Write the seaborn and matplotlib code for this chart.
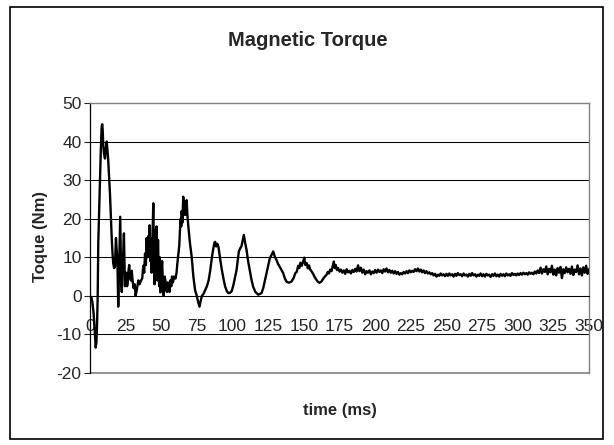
import numpy as np
import pandas as pd
import matplotlib
matplotlib.use("Agg")
import matplotlib.pyplot as plt
import seaborn as sns
from matplotlib.patches import Rectangle

sns.set_style("white")
plt.rcParams['font.family'] = ['Liberation Sans', 'DejaVu Sans']

# ---- data ----
time_early = [
    0, 1, 1.6, 2.4, 3, 3.6, 4, 4.5, 4.9, 5.4,
    5.8, 6.4, 7, 7.6, 8.2, 8.6, 8.9, 9.3, 9.8, 10.5,
    11, 11.7, 12.2, 12.8, 13.4, 14, 14.6, 15.2, 15.8, 16.3,
    16.9, 17.5, 18.2, 18.7, 19.2, 19.8, 20.5, 21.2, 21.9, 22.3,
    22.8, 23.3, 23.8, 24.5, 25, 25.4, 26, 26.4, 27, 27.5,
    28, 28.7, 29.3, 30, 30.6, 31.3, 32, 32.8, 33.9, 34.8,
    35.8, 36.6, 37.4, 38, 38.6, 39.2, 39.7, 40.3, 40.9, 41.4,
    41.8, 42.3, 42.8, 43.2, 43.7, 44.4, 44.9, 45.2, 45.7, 46.2,
    46.7, 47.2, 47.7, 48.2, 48.6, 49, 49.4, 50, 50.6, 51.1,
    51.7, 52.3, 52.9, 53.4, 54, 54.6, 55.2, 55.8, 56.4, 57,
    57.5, 58.2, 59, 60, 60.7, 61.3, 62, 62.6, 63.1, 63.6,
    64, 64.3, 64.8, 65.4, 65.9, 66.3, 66.6, 67.2, 67.8, 68.3,
    69, 70.1, 71.3, 72.5, 73.7, 74.9, 75.8, 76.8, 77.5, 78.5,
    79.6, 80.8, 82, 83.2, 84.3, 85.5, 86.6, 87.3, 87.8, 88.5,
    89.3, 90.1, 91.3, 92.5, 93.7, 94.8, 96, 97, 98.3, 99.5,
    100.7, 101.8, 102.8, 103.6, 104.4, 105.3, 106.2, 107, 107.9, 108.8,
    109.8, 110.9, 112, 113.2, 114.4, 116, 118, 120.3, 121.5, 122.7,
    123.8, 125, 126.1, 127.2, 128.5, 129.6, 130.8, 132, 133, 134.3,
    135.5, 136.6, 137.8, 139.5, 141.3, 142.8, 144, 145, 146, 146.8,
    147.6, 148.5, 149.5, 150.3, 151, 152, 152.8, 153.6, 154.5, 155.5,
    156.5, 157.7, 158.9, 160, 161, 162.3, 163.5, 164.7, 165.8, 166.8,
    167.6, 168.5, 169.4, 170.2, 171, 171.7, 172.4, 173.2, 174, 175,
]
torque_early = [
    0, -0.5, -1.5, -4, -7, -11, -13.4, -12, -8, 0,
    13.7, 22, 30.8, 38, 44, 44.5, 43, 39, 37, 35.6,
    38, 40, 38, 35, 31, 26.5, 21, 15.3, 11, 8.4,
    7.2, 7.6, 15, 12, 9.5, -2.8, 9, 20.5, 3.3, 1,
    8, 11, 16.2, 2.5, 5, 6, 2.5, 3.3, 6.5, 8,
    5, 4, 6.5, 3.5, 2, 3, 0, 1.5, 4, 3,
    4, 4.5, 7.8, 6, 11, 8, 15, 10, 15.5, 11,
    18.3, 9, 15, 6, 14, 24, 8, 3, 17, 12,
    18, 4, 14.5, 6, 2.5, 10, 0.9, 6, 9, 3,
    0, 5, 4, 1.5, 1, 3.5, 2.5, 1, 4, 2.5,
    5, 3.5, 5, 4.5, 6, 8.5, 11, 13, 17, 20,
    18, 22, 19, 25.7, 21, 24.5, 23, 21, 24.8, 21,
    17.9, 13.7, 10.2, 5, 1.5, 0, -1.5, -2.8, -1.5, 0,
    0.5, 1.5, 2.5, 4, 6.5, 10, 12.5, 13.8, 14, 12.8,
    13.5, 12.7, 9.5, 6.7, 4.3, 2.4, 1.2, 0.7, 0.8, 1.3,
    3, 5, 6.7, 9, 11.5, 12.3, 12.8, 14.2, 15.8, 13.8,
    11.9, 9, 6.7, 4.3, 2.4, 1, 0.3, 0.7, 2, 4,
    5.9, 7.8, 9.7, 10.5, 11.5, 10.2, 9.3, 8.2, 7.6, 6.7,
    5.9, 4.6, 3.7, 3.4, 3.7, 4.6, 5.9, 6.2, 7.8, 7.2,
    8.6, 7.8, 8.9, 9.9, 8, 8.5, 7.1, 7.9, 6.8, 6.3,
    5.7, 4.8, 4.1, 3.6, 3.4, 3.7, 4.4, 5, 5.4, 6.2,
    5.8, 6.8, 6.4, 7.6, 8.9, 7.2, 8, 6.7, 7.2, 6.3,
]
time_late = list(range(176, 351))
torque_late = [
    6.8, 6.0, 6.6, 5.7, 6.9, 6.1, 6.5, 5.8, 6.7, 6.2, 7.0, 6.3, 7.9, 6.4, 7.3, 6.0, 6.8, 5.6, 6.4, 6.0, 6.6, 5.6, 6.3, 5.9, 6.7,
    6.0, 6.8, 6.2, 6.6, 5.9, 6.9, 6.3, 7.1, 6.1, 6.7, 6.0, 6.5, 5.8, 6.4, 5.7, 6.2, 5.5, 5.9, 5.6, 6.2, 5.8, 6.4, 5.9, 6.6, 6.1,
    6.5, 6.2, 6.9, 6.4, 7.1, 6.3, 6.8, 6.1, 6.6, 5.9, 6.4, 5.8, 6.1, 5.6, 5.9, 5.3, 5.7, 5.0, 5.5, 5.2, 5.8, 5.3, 5.6, 5.1, 5.7,
    5.2, 5.8, 5.3, 5.6, 5.0, 5.7, 5.2, 5.9, 5.4, 5.6, 5.1, 5.8, 5.3, 5.5, 5.0, 5.7, 5.2, 5.9, 5.3, 5.6, 5.0, 5.5, 5.2, 5.8, 5.1,
    5.6, 5.0, 5.7, 5.3, 5.5, 4.9, 5.6, 5.2, 5.8, 5.1, 5.5, 5.0, 5.7, 5.2, 5.6, 5.1, 5.8, 5.3, 5.6, 5.2, 5.9, 5.4, 5.7, 5.3, 5.8,
    5.4, 5.9, 5.5, 6.0, 5.6, 5.9, 5.5, 6.1, 5.7, 6.0, 5.6, 6.3, 5.8, 6.6, 5.9, 7.3, 5.8, 6.9, 6.2, 7.6, 5.6, 7.0, 6.1, 7.8, 5.5,
    6.8, 5.3, 7.2, 6.0, 7.5, 4.6, 6.9, 5.9, 7.4, 6.1, 7.0, 5.7, 7.6, 5.4, 6.8, 6.2, 7.9, 5.6, 7.1, 5.3, 7.4, 6.0, 7.8, 5.7, 6.9,
]
x_ticks = [0, 25, 50, 75, 100, 125, 150, 175, 200, 225, 250, 275, 300, 325, 350]
y_ticks = [-20, -10, 0, 10, 20, 30, 40, 50]

assert len(time_early) == len(torque_early)
assert len(time_late) == len(torque_late)

df = pd.DataFrame({
    "time": time_early + time_late,
    "torque": torque_early + torque_late,
})

W, H = 614, 445
fig = plt.figure(figsize=(W / 100, H / 100), dpi=100)
ax = fig.add_axes([90 / W, 1 - 373 / H, (589 - 90) / W, (373 - 103) / H])

# outer chart border
fig.patches.append(Rectangle((10 / W, 1 - 439 / H), (603 - 10) / W, (439 - 7) / H,
                             transform=fig.transFigure, fill=False,
                             edgecolor="black", linewidth=1.2, zorder=0))

ax.set_xlim(0, 350)
ax.set_ylim(-20, 50)
for yv in y_ticks[1:-1]:
    ax.axhline(yv, color="black", linewidth=0.75, zorder=1)

sns.lineplot(data=df, x="time", y="torque", sort=False, estimator=None,
             color="black", linewidth=1.7, ax=ax, zorder=3)

for side in ["top", "right"]:
    ax.spines[side].set_color("#808080")
    ax.spines[side].set_linewidth(1.0)
ax.spines["left"].set_color("black")
ax.spines["left"].set_linewidth(0.9)
ax.spines["bottom"].set_position(("data", 0))
ax.spines["bottom"].set_color("black")
ax.spines["bottom"].set_linewidth(0.75)
ax.axhline(-20, color="#808080", linewidth=1.2, zorder=1, clip_on=False)

ax.set_xticks(x_ticks)
ax.set_yticks(y_ticks)
ax.set_xticklabels([str(v) for v in x_ticks])
ax.set_yticklabels([str(v) for v in y_ticks])
ax.tick_params(axis="x", length=0, pad=17, labelsize=12.5)
ax.tick_params(axis="y", left=True, length=4, width=0.8, pad=2, labelsize=12.5, direction="out")

ax.set_xlabel("")
ax.set_ylabel("")
fig.text(308 / W, 1 - 40 / H, "Magnetic Torque", ha="center", va="center",
         fontsize=14.5, fontweight="bold")
fig.text(340 / W, 1 - 410 / H, "time (ms)", ha="center", va="center",
         fontsize=12, fontweight="bold")
fig.text(40 / W, 1 - 236 / H, "Toque (Nm)", ha="center", va="center",
         fontsize=12, fontweight="bold", rotation=90)

fig.savefig("out.png", dpi=100)
